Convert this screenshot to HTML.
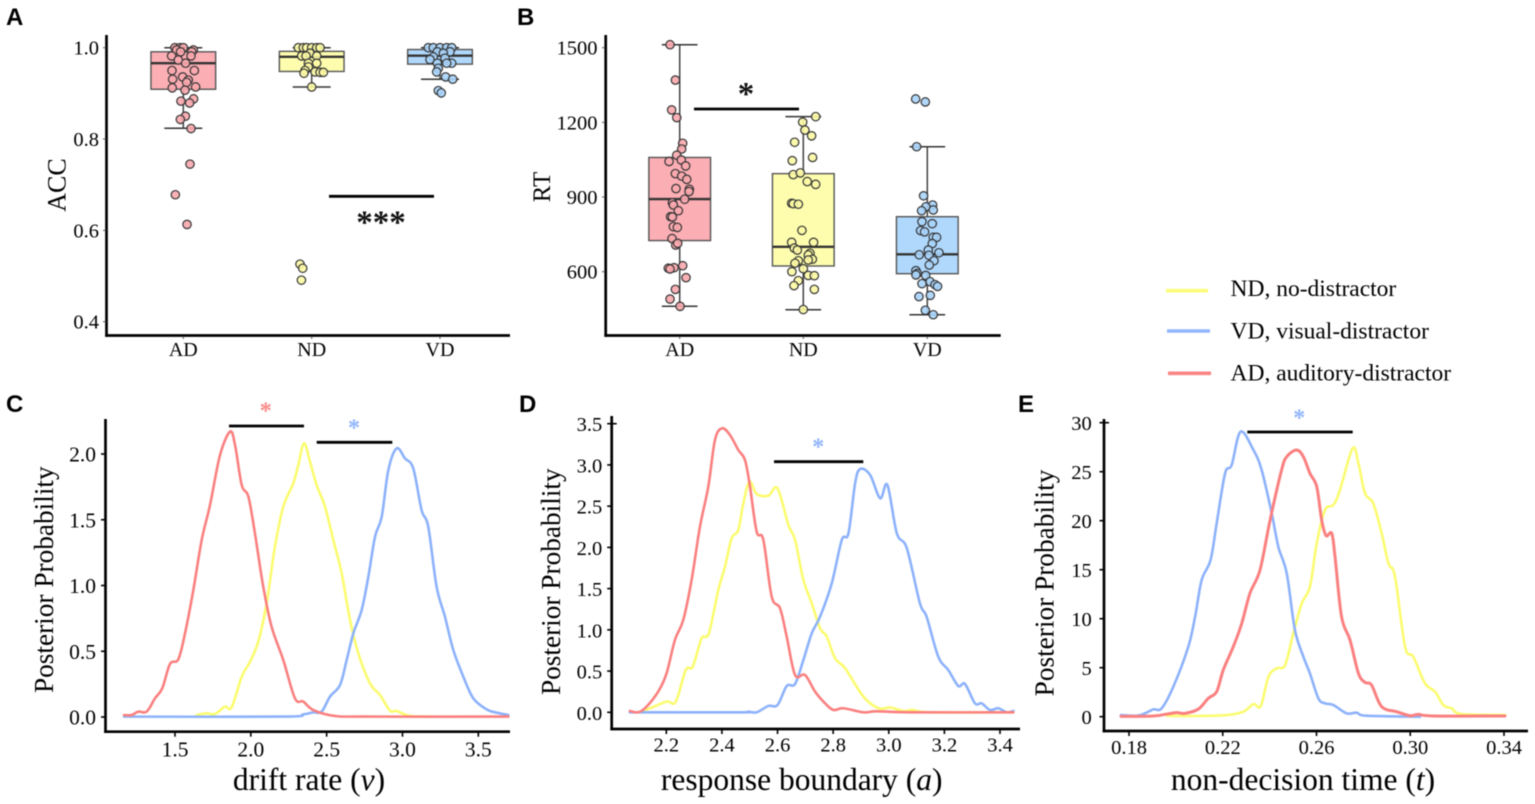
<!DOCTYPE html>
<html lang="en">
<head>
<meta charset="utf-8">
<title>Behavioral results and posterior distributions</title>
<style>
html,body{margin:0;padding:0;background:#fff;}
#figure{display:block;width:1535px;height:804px;background:#fff;filter:blur(0.4px);}
text{font-family:"Liberation Serif",serif;fill:#000;}
.panel-letter{font-family:"Liberation Sans",sans-serif;font-weight:700;font-size:24px;fill:#000;}
</style>
</head>
<body>
<svg id="figure" xmlns="http://www.w3.org/2000/svg" width="1535" height="804" viewBox="0 0 1535 804">
  <text class="panel-letter" x="6" y="25">A</text>
  <text class="panel-letter" x="517" y="25">B</text>
  <text class="panel-letter" x="6" y="412">C</text>
  <text class="panel-letter" x="519" y="412">D</text>
  <text class="panel-letter" x="1018" y="412">E</text>

  <g>
    <line x1="1166" y1="290.7" x2="1208" y2="290.7" stroke="#fbfb7a" stroke-width="3.6"/>
    <text x="1230.5" y="296" font-size="23.5">ND, no-distractor</text>
    <line x1="1167" y1="331" x2="1210" y2="331" stroke="#91b5fb" stroke-width="3.6"/>
    <text x="1230.5" y="338.3" font-size="23.5">VD, visual-distractor</text>
    <line x1="1168" y1="373.3" x2="1211" y2="373.3" stroke="#fa8585" stroke-width="3.6"/>
    <text x="1230.5" y="380.7" font-size="23.5">AD, auditory-distractor</text>
  </g>

  <g id="panel-a"></g>
  <g id="panel-b"></g>
  <g id="panel-c"></g>
  <g id="panel-d"></g>
  <g id="panel-e"></g>
</svg>

<script>
// ---------- shared categories ----------
const conditions = ['AD', 'ND', 'VD'];

// ---------- Panel A: ACC ----------
const accTicks = [0.4, 0.6, 0.8, 1.0];
// box statistics: low whisker, q1, median, q3, high whisker
const accBoxAD = [0.8235, 0.909, 0.966, 0.991, 1.0];
const accBoxND = [0.914, 0.948, 0.98, 0.992, 1.0];
const accBoxVD = [0.931, 0.964, 0.9825, 0.996, 1.0];
const accValuesAD = [1,1,1,.995,.995,.991,.991,.982,.982,.973,.966,.95,.95,.936,.931,.929,.924,.912,.914,.907,.888,.883,.879,.85,.843,.823,.745,.678,.613];
const accJitterAD = [-.065,-.026,0,-.052,.078,-.021,.065,-.091,.06,-.039,.018,.086,-.088,-.005,-.083,.039,.026,-.086,.096,.013,.08,-.018,.049,.016,-.023,.06,.052,-.062,.029];
const accValuesND = [1,1,1,1,1,1,.988,.982,.982,.982,.966,.966,.958,.95,.947,.946,.946,.944,.914,.526,.517,.491];
const accJitterND = [-.104,-.065,-.039,0,.039,.065,-.013,-.078,-.044,.039,-.026,.039,-.026,-.052,.026,.065,.091,-.06,0,-.091,-.07,-.08];
const accValuesVD = [1,1,1,1,1,.991,.991,.988,.98,.977,.974,.966,.966,.966,.955,.947,.936,.931,.906,.901];
const accJitterVD = [-.091,-.052,0,.052,.091,-.021,.078,.026,-.052,.039,-.078,-.021,.091,.052,-.013,-.026,.044,.099,-.013,.01];

// ---------- Panel B: RT ----------
const rtTicks = [600, 900, 1200, 1500];
const rtBoxAD = [461, 725, 892, 1059, 1512];
const rtBoxND = [447, 623, 700, 994, 1223];
const rtBoxVD = [427, 592, 670, 821, 1102];
const rtValuesAD = [1512,1370,1250,1219,1116,1093,1068,1049,1043,1025,994,984,971,934,931,922,891,877,868,845,821,820,781,778,733,707,714,624,616,614,611,576,529,490,461];
const rtJitterAD = [-.078,-.035,-.065,-.024,.024,.016,-.024,.013,-.086,.048,-.035,.016,.057,-.03,.078,.075,.04,-.059,-.051,-.011,-.073,-.059,-.051,-.019,-.062,-.032,-.016,.024,-.046,-.092,-.078,.051,-.035,-.078,.003];
const rtValuesND = [1223,1201,1169,1146,1120,1059,1046,990,997,962,951,875,873,871,766,718,718,695,687,674,667,650,644,647,634,612,600,585,584,564,544,529,448];
const rtJitterND = [.1,-.005,.013,.067,-.07,.075,-.089,-.081,-.024,.032,.1,-.094,-.081,-.04,-.011,-.094,.083,-.073,-.048,.054,.04,.073,-.04,.04,-.067,0,-.092,.04,.089,-.04,-.075,.089,0];
const rtValuesVD = [1294,1282,1102,905,868,861,845,848,801,793,765,760,738,738,713,687,668,666,676,644,627,604,593,587,585,560,552,548,541,500,505,445,427];
const rtJitterVD = [-.094,-.016,-.086,-.03,.043,-.011,-.046,.048,-.043,.04,-.054,-.022,.048,.075,.04,.008,-.065,.013,.094,.054,.016,-.092,-.081,-.092,-.013,.022,-.043,.062,.083,-.067,.024,-.016,.048];

// ---------- Panel C: drift rate ----------
const driftTicksX = [1.5, 2.0, 2.5, 3.0, 3.5];
const driftTicksY = [0, 0.5, 1.0, 1.5, 2.0];
const driftRedX = [1.164,1.214,1.258,1.313,1.368,1.416,1.467,1.522,1.566,1.621,1.676,1.731,1.797,1.863,1.896,1.94,1.984,2.027,2.082,2.137,2.214,2.291,2.346,2.412,2.555,2.764,3.698];
const driftRedY = [.015,.015,.041,.041,.142,.218,.403,.439,.636,.966,1.346,1.612,1.992,2.17,2.068,1.764,1.676,1.397,.991,.687,.433,.142,.117,.053,.008,.003,.003];
const driftYellowX = [1.643,1.709,1.764,1.83,1.874,1.94,1.995,2.049,2.104,2.159,2.214,2.28,2.313,2.351,2.39,2.434,2.489,2.544,2.599,2.654,2.709,2.786,2.852,2.918,2.962,3.049,3.203];
const driftYellowY = [.015,.028,.023,.079,.074,.307,.421,.573,.864,1.295,1.6,1.777,1.916,2.081,1.942,1.764,1.6,1.346,1.093,.738,.484,.256,.167,.048,.046,.008,.003];
const driftBlueX = [1.164,2.214,2.346,2.412,2.467,2.522,2.588,2.632,2.676,2.731,2.775,2.819,2.863,2.907,2.962,3.016,3.071,3.126,3.17,3.225,3.28,3.335,3.401,3.467,3.555,3.621,3.698];
const driftBlueY = [.003,.003,.02,.035,.041,.155,.243,.433,.636,.814,1.067,1.371,1.523,1.878,2.043,1.967,1.891,1.574,1.447,.991,.763,.51,.307,.142,.058,.033,.015];

// ---------- Panel D: response boundary ----------
const boundaryTicksX = [2.2, 2.4, 2.6, 2.8, 3.0, 3.2, 3.4];
const boundaryTicksY = [0, 0.5, 1.0, 1.5, 2.0, 2.5, 3.0, 3.5];
const boundaryRedX = [2.069,2.099,2.129,2.171,2.201,2.231,2.261,2.291,2.321,2.351,2.375,2.4,2.429,2.459,2.483,2.501,2.525,2.549,2.579,2.609,2.633,2.663,2.699,2.735,2.771,2.801,2.837,2.909,2.957,3.077,3.448];
const boundaryRedY = [.016,0,.069,.251,.473,.877,1.12,1.605,2.251,2.736,3.302,3.444,3.363,3.181,3.06,2.736,2.191,2.09,1.403,1.261,.918,.453,.453,.251,.109,.028,.049,0,.012,0,0];
const boundaryYellowX = [2.105,2.141,2.201,2.234,2.27,2.295,2.327,2.353,2.387,2.411,2.435,2.459,2.477,2.499,2.525,2.567,2.6,2.639,2.663,2.693,2.723,2.753,2.777,2.807,2.843,2.909,2.963,3.005,3.053,3.088,3.148,3.436];
const boundaryYellowY = [.008,.049,.129,.129,.513,.554,.897,.958,1.483,1.766,2.11,2.211,2.534,2.797,2.648,2.627,2.716,2.272,2.09,1.605,1.322,1.019,.918,.655,.534,.19,.049,.057,.016,.028,0,0];
const boundaryBlueX = [2.069,2.465,2.495,2.525,2.567,2.6,2.633,2.663,2.693,2.723,2.753,2.795,2.831,2.855,2.879,2.897,2.933,2.969,2.995,3.029,3.065,3.112,3.136,3.178,3.214,3.25,3.274,3.31,3.334,3.364,3.394,3.424,3.448];
const boundaryBlueY = [0,0,.008,0,.077,.089,.319,.344,.635,.958,1.16,1.564,2.09,2.171,2.777,2.951,2.878,2.595,2.757,2.171,1.989,1.322,1.16,.675,.513,.319,.344,.109,.109,.028,.049,0,.016];

// ---------- Panel E: non-decision time ----------
const timeTicksX = [0.18, 0.22, 0.26, 0.30, 0.34];
const timeTicksY = [0, 5, 10, 15, 20, 25, 30];
const timeBlueX = [.1766,.1833,.1868,.1904,.1939,.1989,.2053,.2082,.211,.2148,.2174,.221,.2238,.2276,.2331,.2366,.2409,.2437,.2473,.2508,.2544,.2572,.2608,.2636,.2672,.2729,.2771,.2814,.3042];
const timeBlueY = [.17,.1,.34,.75,.85,3.06,7.14,10.2,13.95,15.99,19.73,24.83,25.68,29.08,27.21,25.17,20.75,17.35,14.63,8.84,6.12,4.42,1.87,1.36,1.19,.34,.41,.1,0];
const timeRedX = [.1766,.1904,.1961,.2003,.2039,.2096,.2138,.2174,.2202,.2245,.2281,.2316,.2359,.2402,.2451,.2473,.2515,.2544,.2572,.2601,.2622,.2641,.2665,.2679,.2707,.2743,.2779,.2807,.2835,.2878,.2942,.2999,.3034,.3099,.3404];
const timeRedY = [.03,.07,.27,.41,.34,.78,1.87,2.55,4.76,7.14,9.52,12.59,14.97,20.07,25.17,26.53,27.21,26.53,24.83,23.47,20.07,18.47,18.71,16.33,10.2,7.82,4.42,3.5,3.23,1.02,.51,.1,.24,.07,.07];
const timeYellowX = [.1961,.2075,.2217,.2288,.2331,.2362,.2395,.243,.2466,.2501,.2537,.2572,.2601,.2636,.2672,.27,.2754,.2779,.2807,.2842,.2878,.2907,.2935,.2978,.3013,.3063,.3106,.3141,.3177,.3219,.3404];
const timeYellowY = [.1,.07,.17,.51,1.29,1.09,4.08,4.93,5.27,8.5,11.56,13.27,17.69,21.09,21.6,23.13,27.38,25.85,22.79,21.77,18.71,15.65,14.29,7.14,6.12,3.4,2.55,1.19,.85,.27,.17];

// ---------- drawing helpers ----------
const SVG_NS = 'http://www.w3.org/2000/svg';
const COLOR_RED = '#fa8080';
const COLOR_YELLOW = '#fbfb70';
const COLOR_BLUE = '#8db2fb';
const BOX_FILL = {AD: '#fbaeb4', ND: '#fefdae', VD: '#b0d8fd'};
const POINT_FILL = {AD: '#f9a9ae', ND: '#fcfaa4', VD: '#a9d4fa'};

function linear(d0, r0, d1, r1) {
  return function (v) { return r0 + (v - d0) * (r1 - r0) / (d1 - d0); };
}
function drawLine(parent, name, x1, y1, x2, y2, stroke, width) {
  const el = document.createElementNS(SVG_NS, 'line');
  
  
  el.setAttribute('x1', x1);
  el.setAttribute('y1', y1);
  el.setAttribute('x2', x2);
  el.setAttribute('y2', y2);
  el.setAttribute('stroke', stroke);
  el.setAttribute('stroke-width', width);
  parent.appendChild(el);
  return el;
}
function drawText(parent, name, str, x, y, size, anchor, color, rotate) {
  const el = document.createElementNS(SVG_NS, 'text');
  
  
  el.setAttribute('x', x);
  el.setAttribute('y', y);
  el.setAttribute('font-size', size);
  el.setAttribute('text-anchor', anchor);
  if (color) el.style.fill = color;
  if (rotate) el.setAttribute('transform', 'rotate(-90 ' + x + ' ' + y + ')');
  el.textContent = str;
  parent.appendChild(el);
  return el;
}
function drawStar(parent, name, str, x, y, size, color) {
  const el = drawText(parent, name, str, x, y, size, 'middle', color);
  el.setAttribute('font-weight', 'bold');
  return el;
}
function drawItalicTitle(parent, name, before, italic, x, y, size) {
  const el = drawText(parent, name, before, x, y, size, 'middle');
  const t1 = document.createElementNS(SVG_NS, 'tspan');
  t1.setAttribute('font-style', 'italic');
  t1.textContent = italic;
  el.appendChild(t1);
  el.appendChild(document.createTextNode(')'));
  return el;
}
function drawAxes(parent, x, top, bottom, right) {
  drawLine(parent, 'y-axis-line', x, top, x, bottom + 1.3, '#000', 2.7);
  drawLine(parent, 'x-axis-line', x - 1.3, bottom, right, bottom, '#000', 2.7);
}
function drawPoints(parent, key, values, jitter, xCenter, spacing, sy) {
  values.forEach(function (v, i) {
    const el = document.createElementNS(SVG_NS, 'circle');
    
    
    el.setAttribute('cx', xCenter + jitter[i] * spacing);
    el.setAttribute('cy', sy(v));
    el.setAttribute('r', 4.2);
    el.setAttribute('fill', POINT_FILL[key]);
    el.setAttribute('fill-opacity', 0.9);
    el.setAttribute('stroke', '#333');
    el.setAttribute('stroke-width', 1.2);
    parent.appendChild(el);
  });
}
function drawBox(parent, key, stats, xCenter, boxW, capW, sy) {
  const low = stats[0], q1 = stats[1], med = stats[2], q3 = stats[3], high = stats[4];
  const n = key.toLowerCase();
  drawLine(parent, 'whisker-' + n, xCenter, sy(high), xCenter, sy(low), '#444', 1.5);
  drawLine(parent, 'whisker-cap-high-' + n, xCenter - capW / 2, sy(high), xCenter + capW / 2, sy(high), '#333', 1.5);
  drawLine(parent, 'whisker-cap-low-' + n, xCenter - capW / 2, sy(low), xCenter + capW / 2, sy(low), '#333', 1.5);
  const r = document.createElementNS(SVG_NS, 'rect');
  
  
  r.setAttribute('x', xCenter - boxW / 2);
  r.setAttribute('y', sy(q3));
  r.setAttribute('width', boxW);
  r.setAttribute('height', sy(q1) - sy(q3));
  r.setAttribute('fill', BOX_FILL[key]);
  r.setAttribute('stroke', '#555');
  r.setAttribute('stroke-width', 1.4);
  parent.appendChild(r);
  drawLine(parent, 'median-' + n, xCenter - boxW / 2, sy(med), xCenter + boxW / 2, sy(med), '#333', 2.4);
}
function smoothPath(px, py) {
  let d = 'M' + px[0].toFixed(2) + ' ' + py[0].toFixed(2);
  for (let i = 0; i < px.length - 1; i++) {
    const x0 = px[Math.max(i - 1, 0)], y0 = py[Math.max(i - 1, 0)];
    const x1 = px[i], y1 = py[i], x2 = px[i + 1], y2 = py[i + 1];
    const x3 = px[Math.min(i + 2, px.length - 1)], y3 = py[Math.min(i + 2, px.length - 1)];
    const f = 1 / 6;
    d += 'C' + (x1 + (x2 - x0) * f).toFixed(2) + ' ' + (y1 + (y2 - y0) * f).toFixed(2) + ' ' +
      (x2 - (x3 - x1) * f).toFixed(2) + ' ' + (y2 - (y3 - y1) * f).toFixed(2) + ' ' +
      x2.toFixed(2) + ' ' + y2.toFixed(2);
  }
  return d;
}
function drawCurve(parent, name, xs, ys, sx, sy, color, width) {
  const el = document.createElementNS(SVG_NS, 'path');
  
  
  el.setAttribute('d', smoothPath(xs.map(sx), ys.map(sy)));
  el.setAttribute('fill', 'none');
  el.setAttribute('stroke', color);
  el.setAttribute('stroke-width', width);
  el.setAttribute('stroke-linejoin', 'round');
  el.setAttribute('stroke-linecap', 'round');
  parent.appendChild(el);
}

// ---------- Panel A ----------
(function () {
  const g = document.getElementById('panel-a');
  const sy = linear(1.0, 47.7, 0.4, 321.7);
  const catX = [183.3, 311.7, 440];
  drawAxes(g, 106.5, 35, 335.5, 510);
  accTicks.forEach(function (t) {
    drawLine(g, 'y-tick-mark', 103, sy(t), 106, sy(t), '#555', 1);
    drawText(g, 'y-tick-label', t.toFixed(1), 99, sy(t) + 7, 20.5, 'end');
  });
  conditions.forEach(function (c, i) {
    drawLine(g, 'x-tick-mark', catX[i], 336.5, catX[i], 339, '#555', 1);
    drawText(g, 'x-tick-label', c, catX[i], 356, 20, 'middle');
  });
  drawText(g, 'y-axis-title', 'ACC', 65.5, 185, 26, 'middle', null, true);
  const boxes = [accBoxAD, accBoxND, accBoxVD];
  conditions.forEach(function (c, i) {
    drawBox(g, c, boxes[i], catX[i], 64.7, 38, sy);
  });
  drawPoints(g, 'AD', accValuesAD, accJitterAD, catX[0], 128.5, sy);
  drawPoints(g, 'ND', accValuesND, accJitterND, catX[1], 128.5, sy);
  drawPoints(g, 'VD', accValuesVD, accJitterVD, catX[2], 128.5, sy);
  drawLine(g, 'significance-bar', 329, 196.3, 434, 196.3, '#000', 2.8);
  drawStar(g, 'significance-stars', '***', 381, 233, 33, '#111');
})();

// ---------- Panel B ----------
(function () {
  const g = document.getElementById('panel-b');
  const sy = linear(1500, 47.7, 600, 271.7);
  const catX = [679.7, 803.3, 927.3];
  drawAxes(g, 605.7, 35, 335.5, 1000.7);
  rtTicks.forEach(function (t) {
    drawLine(g, 'y-tick-mark', 602, sy(t), 605, sy(t), '#555', 1);
    drawText(g, 'y-tick-label', String(t), 597.5, sy(t) + 7, 20.5, 'end');
  });
  conditions.forEach(function (c, i) {
    drawLine(g, 'x-tick-mark', catX[i], 336.5, catX[i], 339, '#555', 1);
    drawText(g, 'x-tick-label', c, catX[i], 356, 20, 'middle');
  });
  drawText(g, 'y-axis-title', 'RT', 550, 187, 25, 'middle', null, true);
  const boxes = [rtBoxAD, rtBoxND, rtBoxVD];
  conditions.forEach(function (c, i) {
    drawBox(g, c, boxes[i], catX[i], 61.7, 35.7, sy);
  });
  drawPoints(g, 'AD', rtValuesAD, rtJitterAD, catX[0], 123.8, sy);
  drawPoints(g, 'ND', rtValuesND, rtJitterND, catX[1], 123.8, sy);
  drawPoints(g, 'VD', rtValuesVD, rtJitterVD, catX[2], 123.8, sy);
  drawLine(g, 'significance-bar', 694, 109, 799, 109, '#000', 2.8);
  drawStar(g, 'significance-star', '*', 746, 104.5, 33, '#111');
})();

// ---------- Density panels ----------
function drawDensityPanel(g, cfg) {
  drawAxes(g, cfg.axisX, cfg.top, cfg.bottom, cfg.right);
  cfg.ticksY.forEach(function (t, i) {
    const last = i === cfg.ticksY.length - 1 && cfg.crossTop;
    drawLine(g, 'y-tick-mark', cfg.axisX - 4.5, cfg.sy(t), cfg.axisX + (last ? 5 : 0), cfg.sy(t), '#000', 1.6);
    drawText(g, 'y-tick-label', t.toFixed(cfg.yDigits), cfg.labelRight, cfg.sy(t) + 7.5, cfg.tickSize, 'end');
  });
  cfg.ticksX.forEach(function (t) {
    drawLine(g, 'x-tick-mark', cfg.sx(t), cfg.bottom, cfg.sx(t), cfg.bottom + 5, '#000', 1.6);
    drawText(g, 'x-tick-label', t.toFixed(cfg.xDigits), cfg.sx(t), cfg.xLabelY, cfg.tickSize, 'middle');
  });
  drawText(g, 'y-axis-title', 'Posterior Probability', cfg.titleX, cfg.titleY, 27.3, 'middle', null, true);
  drawItalicTitle(g, 'x-axis-title', cfg.xTitle, cfg.xTitleVar, cfg.xTitleX, 790, 31.5);
}

(function () {
  const g = document.getElementById('panel-c');
  const sx = linear(1.5, 175, 3.5, 478.3);
  const sy = linear(0, 717, 2, 454);
  drawDensityPanel(g, {axisX: 105.5, top: 419, bottom: 731.7, right: 510, sx: sx, sy: sy,
    ticksX: driftTicksX, ticksY: driftTicksY, xDigits: 1, yDigits: 1, labelRight: 96, tickSize: 21.5,
    xLabelY: 756.7, titleX: 53, titleY: 579.7, xTitle: 'drift rate (', xTitleVar: 'v', xTitleX: 309});
  drawCurve(g, 'density-curve-nd', driftYellowX, driftYellowY, sx, sy, COLOR_YELLOW, 2.6);
  drawCurve(g, 'density-curve-vd', driftBlueX, driftBlueY, sx, sy, COLOR_BLUE, 2.6);
  drawCurve(g, 'density-curve-ad', driftRedX, driftRedY, sx, sy, COLOR_RED, 2.6);
  drawLine(g, 'significance-bar-ad-nd', 229, 426, 304, 426, '#000', 2.8);
  drawStar(g, 'significance-star-red', '*', 265.7, 418.5, 24, '#fa8a8a');
  drawLine(g, 'significance-bar-nd-vd', 316.7, 442.3, 392.3, 442.3, '#000', 2.8);
  drawStar(g, 'significance-star-blue', '*', 354, 435.6, 24, '#91b5fb');
})();

(function () {
  const g = document.getElementById('panel-d');
  const sx = linear(2.2, 666.3, 3.4, 1000);
  const sy = linear(0, 712.3, 3.5, 423.7);
  drawDensityPanel(g, {axisX: 611.7, top: 416, bottom: 729, right: 1020, sx: sx, sy: sy,
    ticksX: boundaryTicksX, ticksY: boundaryTicksY, xDigits: 1, yDigits: 1, labelRight: 602.3, tickSize: 20.5,
    xLabelY: 751.7, titleX: 560, titleY: 581.7, xTitle: 'response boundary (', xTitleVar: 'a', xTitleX: 801.7, crossTop: true});
  drawCurve(g, 'density-curve-nd', boundaryYellowX, boundaryYellowY, sx, sy, COLOR_YELLOW, 2.6);
  drawCurve(g, 'density-curve-vd', boundaryBlueX, boundaryBlueY, sx, sy, COLOR_BLUE, 2.6);
  drawCurve(g, 'density-curve-ad', boundaryRedX, boundaryRedY, sx, sy, COLOR_RED, 2.6);
  drawLine(g, 'significance-bar', 774, 461.7, 863.3, 461.7, '#000', 2.8);
  drawStar(g, 'significance-star-blue', '*', 818.3, 454.5, 24, '#91b5fb');
})();

(function () {
  const g = document.getElementById('panel-e');
  const sx = linear(0.18, 1129, 0.34, 1504);
  const sy = linear(0, 716.7, 30, 422.7);
  drawDensityPanel(g, {axisX: 1104, top: 419, bottom: 731, right: 1528, sx: sx, sy: sy,
    ticksX: timeTicksX, ticksY: timeTicksY, xDigits: 2, yDigits: 0, labelRight: 1091.7, tickSize: 20.5,
    xLabelY: 754, titleX: 1053.3, titleY: 583, xTitle: 'non-decision time (', xTitleVar: 't', xTitleX: 1303, crossTop: true});
  drawCurve(g, 'density-curve-nd', timeYellowX, timeYellowY, sx, sy, COLOR_YELLOW, 2.6);
  drawCurve(g, 'density-curve-vd', timeBlueX, timeBlueY, sx, sy, COLOR_BLUE, 2.6);
  drawCurve(g, 'density-curve-ad', timeRedX, timeRedY, sx, sy, COLOR_RED, 3);
  drawLine(g, 'significance-bar', 1247.3, 432, 1352.7, 432, '#000', 2.8);
  drawStar(g, 'significance-star-blue', '*', 1299.3, 425.5, 24, '#91b5fb');
})();
</script>
</body>
</html>
